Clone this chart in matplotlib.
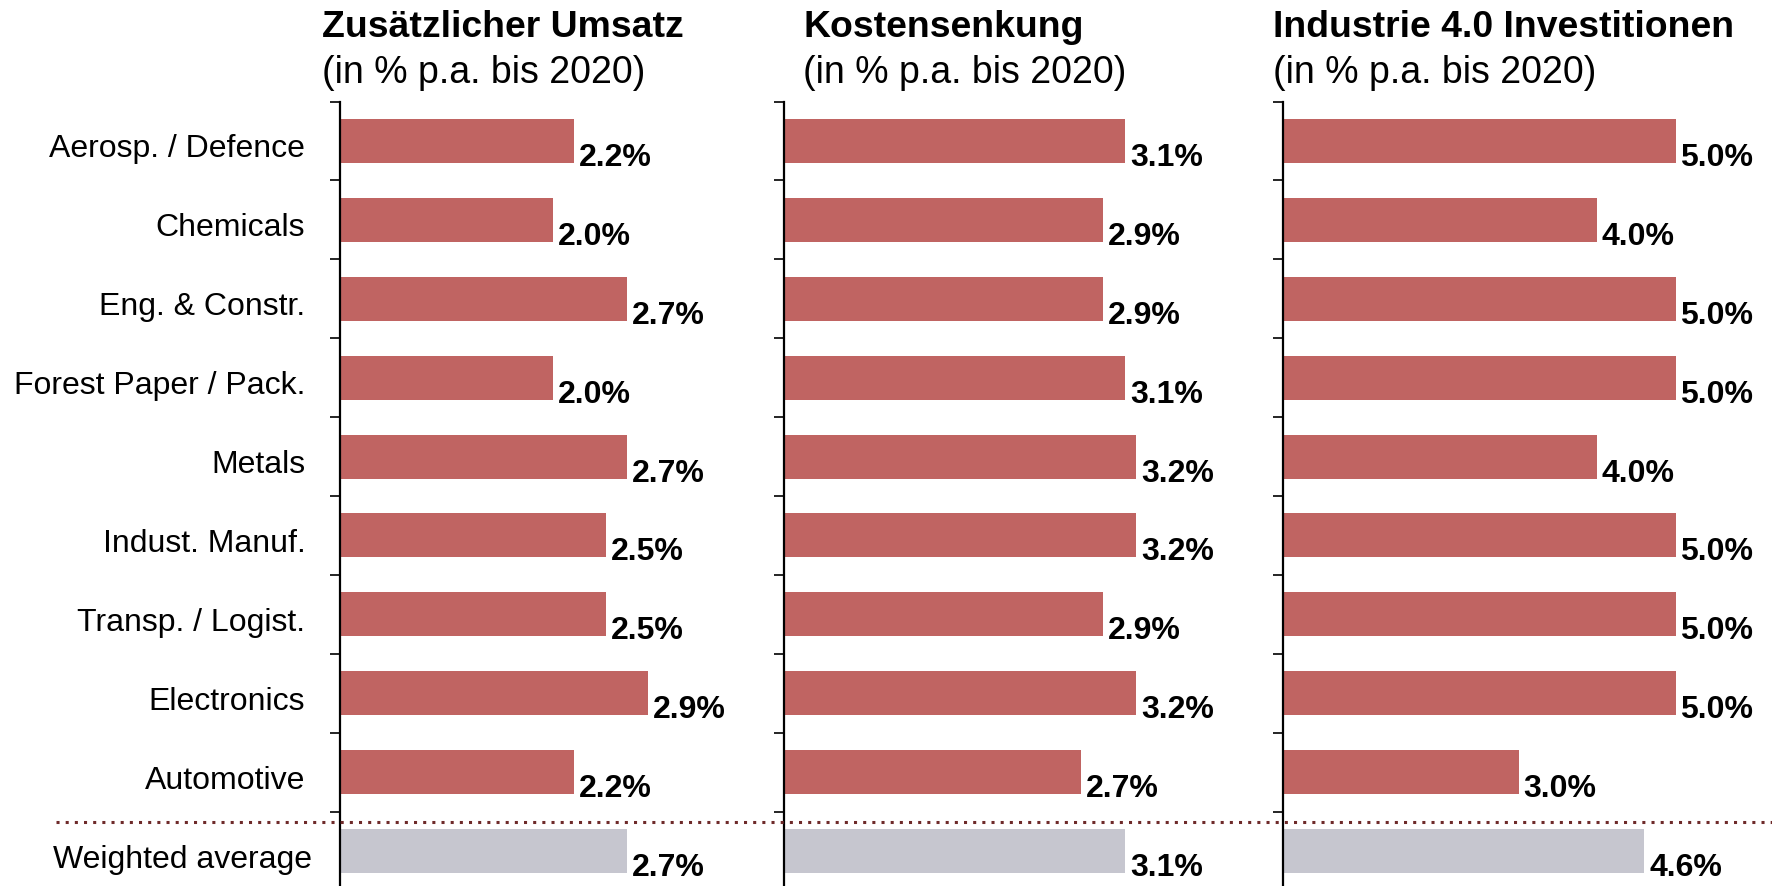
import numpy as np
import matplotlib.pyplot as plt
from matplotlib.lines import Line2D
from matplotlib.transforms import ScaledTranslation

plt.rcParams['font.family'] = ['Liberation Sans', 'DejaVu Sans']

# Daten
branchen = ['Aerosp. / Defence', 'Chemicals', 'Eng. & Constr.', 'Forest Paper / Pack.',
            'Metals', 'Indust. Manuf.', 'Transp. / Logist.', 'Electronics', 'Automotive',
            'Weighted average']
umsatz = [2.2, 2.0, 2.7, 2.0, 2.7, 2.5, 2.5, 2.9, 2.2, 2.7]
kosten = [3.1, 2.9, 2.9, 3.1, 3.2, 3.2, 2.9, 3.2, 2.7, 3.1]
invest = [5.0, 4.0, 5.0, 5.0, 4.0, 5.0, 5.0, 5.0, 3.0, 4.6]
titel = ['Zusätzlicher Umsatz', 'Kostensenkung', 'Industrie 4.0 Investitionen']
untertitel = '(in % p.a. bis 2020)'

rot = '#C06462'
grau = '#C6C6CF'
W, H = 1772, 887

fig = plt.figure(figsize=(W / 100, H / 100), dpi=100)

# panels: linker Rand, Breite (px), Pixel pro Einheit
panels = [(340, 400, 106.3), (784, 400, 110.0), (1283, 440, 78.5)]
reihen = [umsatz, kosten, invest]
titel_x = [322, 803, 1273]

n = len(branchen)
y = np.arange(n)
ytop = 102.5
row = 78.9
ybot = (H - 142) / row

for i, ((left, width, ppu), werte) in enumerate(zip(panels, reihen)):
    ax = fig.add_axes([left / W, 0, width / W, 1 - ytop / H])
    farben = [rot] * (n - 1) + [grau]
    ax.barh(y, werte, height=44 / row, color=farben)
    ax.set_xlim(0, width / ppu)
    ax.set_ylim(ybot, -0.5)
    for s in ['top', 'right', 'bottom']:
        ax.spines[s].set_visible(False)
    ax.spines['left'].set_linewidth(1.6)
    ax.set_xticks([])
    ax.set_yticks(y)
    ax.tick_params(axis='y', which='major', length=0, pad=25)
    ax.set_yticks(np.arange(-0.5, n - 1, 1.0), minor=True)
    ax.tick_params(axis='y', which='minor', length=7.2, width=1.2, direction='out')
    if i == 0:
        labels = ax.set_yticklabels(branchen, fontsize=23)
        for lab in labels:
            lab.set_transform(lab.get_transform() + ScaledTranslation(0, -4 / 100, fig.dpi_scale_trans))
        labels[-1].set_transform(labels[-1].get_transform() + ScaledTranslation(7 / 100, 0, fig.dpi_scale_trans))
    else:
        ax.set_yticklabels([])
    for yy, v in zip(y, werte):
        ax.text(v + 5 / ppu, yy + 24 / row, f'{v:.1f}%', fontsize=23,
                fontweight='bold', va='baseline', ha='left')
    fig.text(titel_x[i] / W, 1 - 36.7 / H, titel[i], fontsize=26.9,
             fontweight='bold', va='baseline', ha='left')
    fig.text(titel_x[i] / W, 1 - 83 / H, untertitel, fontsize=27,
             va='baseline', ha='left')

# gepunktete Trennlinie
fig.add_artist(Line2D([56 / W, 1.0], [1 - 823 / H, 1 - 823 / H], transform=fig.transFigure,
                      color='#6E2A2A', linewidth=2.2, linestyle=(0, (1, 2))))

fig.savefig('out.png', dpi=100)
